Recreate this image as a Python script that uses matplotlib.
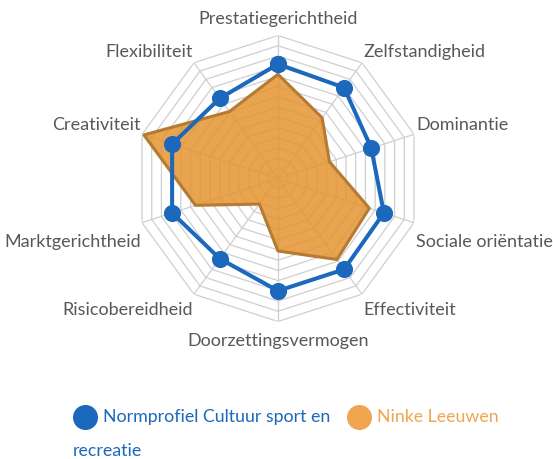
import numpy as np
import matplotlib
matplotlib.use("Agg")
import matplotlib.pyplot as plt

# ---- data ----
categories = ["Prestatiegerichtheid", "Zelfstandigheid", "Dominantie",
              "Sociale oriëntatie", "Effectiviteit", "Doorzettingsvermogen",
              "Risicobereidheid", "Marktgerichtheid", "Creativiteit",
              "Flexibiliteit"]
norm_values = [11.2, 11.0, 9.6, 10.9, 11.0, 11.0, 9.7, 10.9, 10.9, 9.7]
ninke_values = [10.2, 7.35, 5.3, 9.4, 9.8, 7.1, 3.1, 8.5, 13.8, 8.1]
series_names = ["Normprofiel Cultuur sport en\nrecreatie", "Ninke Leeuwen"]
ring_levels = list(range(1, 15))

# ---- style ----
W, H = 553, 460
DPI = 100
BLUE = "#1b68bd"
ORANGE_FILL = "#e49430"
ORANGE_EDGE = "#b57b32"
ORANGE_LEG = "#f0a650"
GRID = "#cfcfcf"
LABEL = "#585858"
FONT = ["Lato", "DejaVu Sans"]
plt.rcParams["font.family"] = FONT
FS = 13

fig = plt.figure(figsize=(W / DPI, H / DPI), dpi=DPI)
cx, cy, R = 278, 179.5, 143
ax = fig.add_axes([(cx - R) / W, (H - cy - R) / H, 2 * R / W, 2 * R / H],
                  projection="polar")
ax.set_theta_zero_location("N")
ax.set_theta_direction(-1)
ax.set_ylim(0, ring_levels[-1])
ax.grid(False)
ax.set_xticks([])
ax.set_yticks([])
ax.spines["polar"].set_visible(False)
ax.patch.set_alpha(0)

n = len(categories)
theta = np.linspace(0, 2 * np.pi, n, endpoint=False)
theta_c = np.append(theta, theta[0])

# polygon grid
for lv in ring_levels:
    ax.plot(theta_c, [lv] * (n + 1), color=GRID, lw=0.9, zorder=1)
for t in theta:
    ax.plot([t, t], [0, ring_levels[-1]], color=GRID, lw=0.9, zorder=1)

# orange series
nv = np.append(ninke_values, ninke_values[0])
ax.fill(theta_c, nv, color=ORANGE_FILL, alpha=0.85, zorder=2, lw=0)
ax.plot(theta_c, nv, color=ORANGE_EDGE, lw=2.2, zorder=3)

# blue series
bv = np.append(norm_values, norm_values[0])
ax.plot(theta_c, bv, color=BLUE, lw=2.9, zorder=4, marker="o",
        markersize=11.3, markerfacecolor=BLUE, markeredgecolor=BLUE)

# category labels (offsets in px from outer vertex)
offsets = [(0, 17, "center"), (1, 12, "left"), (2, 10, "left"),
           (2, -18, "left"), (1, -15, "left"), (0, -19, "center"),
           (-1, -15, "right"), (-1, -18, "right"), (-1, 10, "right"),
           (-1, 12, "right")]
pt = 72 / DPI
for t, lab, (dx, dy, ha) in zip(theta, categories, offsets):
    ax.annotate(lab, xy=(t, ring_levels[-1]), xytext=(dx * pt, dy * pt),
                textcoords="offset points", ha=ha, va="center",
                fontsize=FS, color=LABEL, annotation_clip=False)

# legend (overlay axes in pixel units)
lax = fig.add_axes([0, 0, 1, 1])
lax.set_xlim(0, W)
lax.set_ylim(H, 0)
lax.axis("off")
lax.plot([85], [417.5], marker="o", markersize=17, color=BLUE, ls="none")
lax.plot([358.5], [417.5], marker="o", markersize=17, color=ORANGE_LEG, ls="none")
line1, line2 = series_names[0].split("\n")
lax.text(103, 417.5, line1, color=BLUE, fontsize=12.8, va="center", ha="left")
lax.text(73, 451.5, line2, color=BLUE, fontsize=12.8, va="center", ha="left")
lax.text(377, 417.5, series_names[1], color=ORANGE_LEG, fontsize=12.8,
         va="center", ha="left")

fig.savefig("out.png", dpi=DPI)
